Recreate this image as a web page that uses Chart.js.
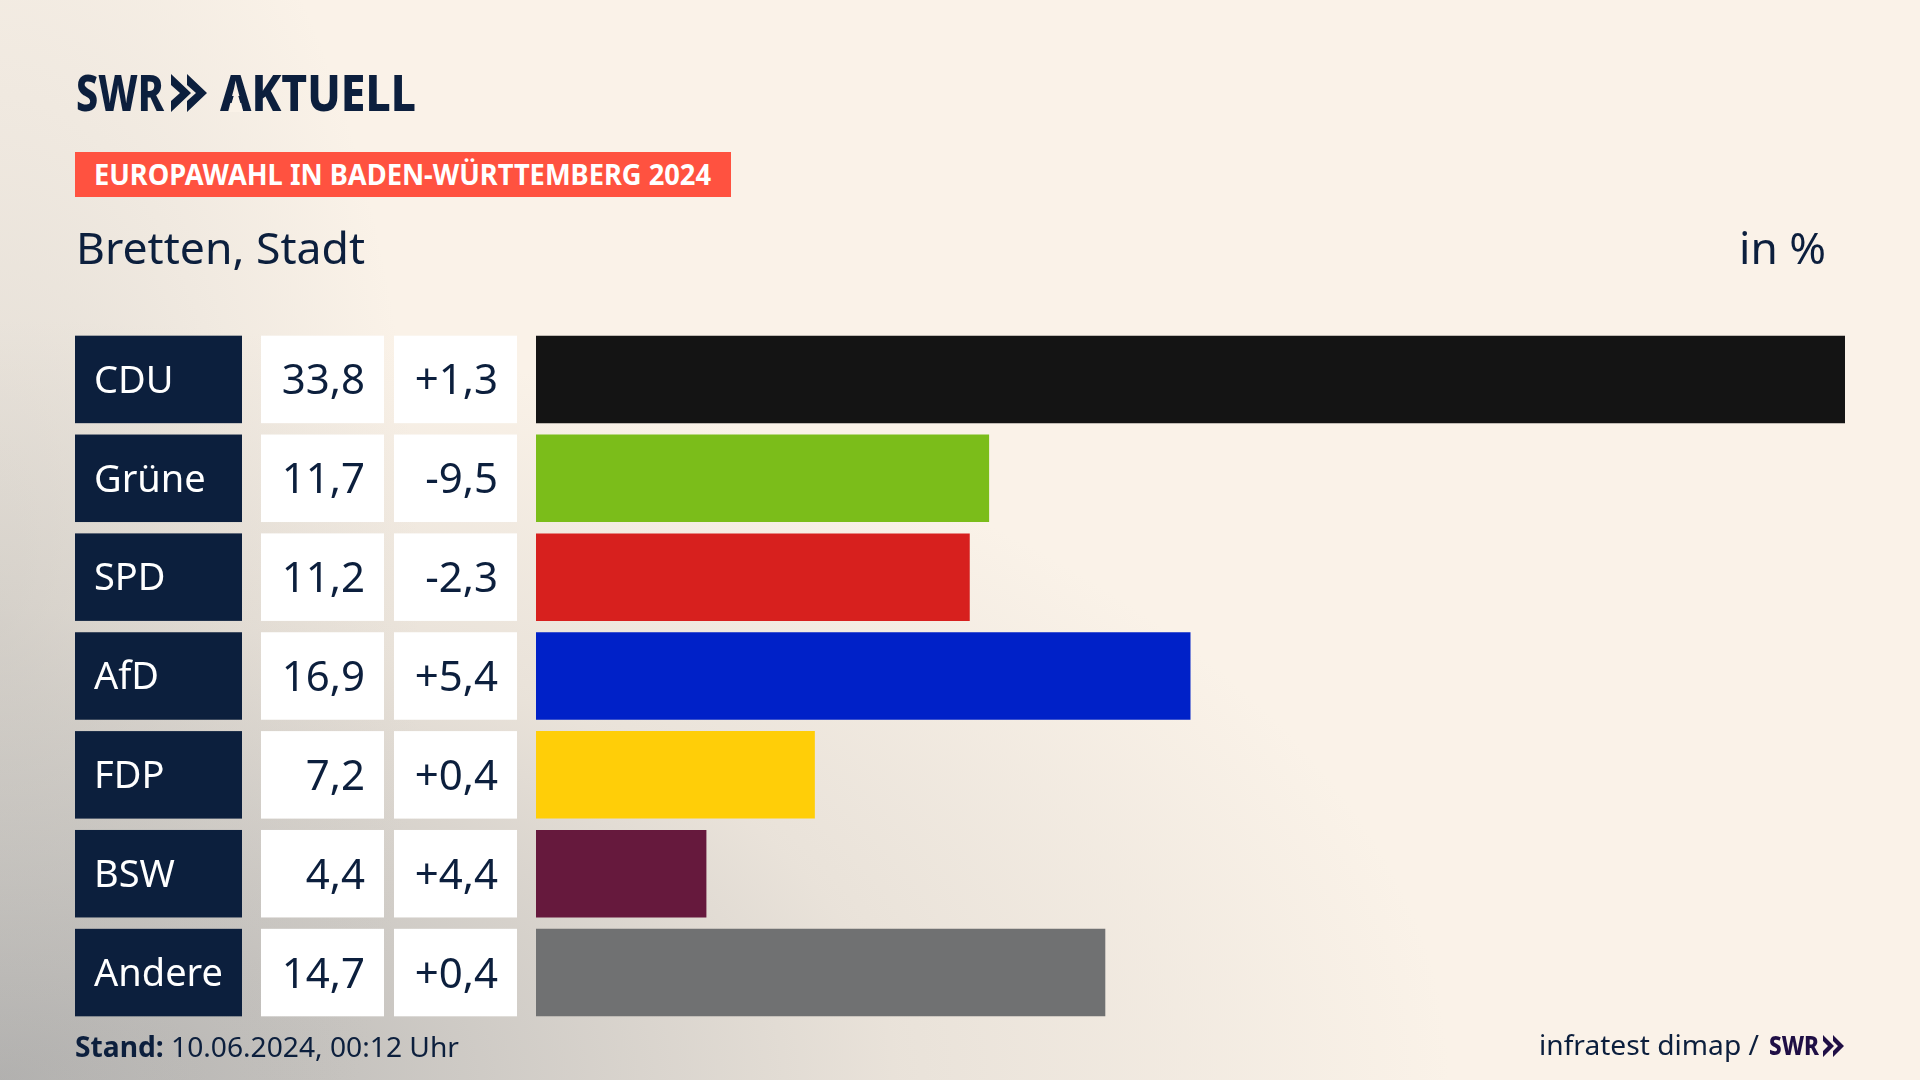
<!DOCTYPE html>
<html lang="de">
<head>
<meta charset="utf-8">
<title>Europawahl Bretten</title>
<script src="https://cdn.jsdelivr.net/npm/chart.js@4"></script>
<style>
html,body{margin:0;padding:0;width:1920px;height:1080px;overflow:hidden}
body{position:relative;font-family:"Noto Sans",sans-serif;color:#0c1f3d;
background:
 radial-gradient(ellipse 420px 900px at 0 620px, rgba(175,175,172,.34) 0%, rgba(190,188,184,.18) 55%, rgba(250,242,232,0) 100%),
 radial-gradient(ellipse 1450px 760px at 0 1080px, rgba(165,165,165,.88) 0%, rgba(188,186,183,.74) 30%, rgba(218,212,204,.52) 62%, rgba(250,242,232,0) 100%),
 #faf2e8;}
canvas{position:absolute;left:0;top:0}
.t{position:absolute;white-space:nowrap;line-height:1;transform-origin:left center}
.badge{position:absolute;left:75px;top:152px;width:656px;height:45px;background:#ff5240}
svg{position:absolute;left:0;top:0}
</style>
</head>
<body>
<canvas id="c" width="1920" height="1080"></canvas>
<div class="t" id="l1" data-w="88" style="left:76px;top:68px;font-size:49px;font-weight:800">SWR</div>
<div class="t" id="l2" data-w="196" style="left:220px;top:68px;font-size:49px;font-weight:800">AKTUELL</div>
<div class="badge"></div>
<div class="t" id="badge" data-w="617" style="left:94px;top:160px;font-size:28px;font-weight:700;color:#fff"></div>
<div class="t" id="place" data-w="289" style="left:76px;top:226px;font-size:43px"></div>
<div class="t" id="unit" data-w="87" style="left:1739px;top:226px;font-size:43px"></div>
<div class="t" id="stand" data-w="384" style="left:75px;top:1032px;font-size:28px"></div>
<div class="t" id="src" data-w="220" style="left:1539px;top:1030px;font-size:28px"></div>
<div class="t" id="l3" data-w="50" style="left:1769px;top:1031px;font-size:27px;font-weight:800;color:#1f0f45">SWR</div>
<svg width="1920" height="1080">
 <polygon fill="#faf2e8" points="236,88 229,112 243,112"/>
 <polygon fill="#0c1f3d" points="171,74 191,93 171,112 171,101 180,93 171,85"/>
 <polygon fill="#0c1f3d" points="187,74 207,93 187,112 187,101 196,93 187,85"/>
 <polygon fill="#1f0f45" points="1823,1035 1834,1046 1823,1057 1823,1051 1828,1046 1823,1041"/>
 <polygon fill="#1f0f45" points="1833,1035 1844,1046 1833,1057 1833,1051 1838,1046 1833,1041"/>
</svg>
<script>
const parties = ["CDU","Grüne","SPD","AfD","FDP","BSW","Andere"];
const shares = [33.8,11.7,11.2,16.9,7.2,4.4,14.7];
const shareLabels = ["33,8","11,7","11,2","16,9","7,2","4,4","14,7"];
const changeLabels = ["+1,3","-9,5","-2,3","+5,4","+0,4","+4,4","+0,4"];
const barColors = ["#141414","#7bbd1a","#d7201e","#0021c8","#ffce08","#66193d","#707172"];
const axisMax = 33.8;
const badgeText = "EUROPAWAHL IN BADEN-WÜRTTEMBERG 2024";
const placeText = "Bretten, Stadt";
const unitText = "in %";
const standBold = "Stand:";
const standText = " 10.06.2024, 00:12 Uhr";
const sourceText = "infratest dimap /";

document.getElementById('badge').textContent = badgeText;
document.getElementById('place').textContent = placeText;
document.getElementById('unit').textContent = unitText;
document.getElementById('stand').innerHTML = '<b>'+standBold+'</b>'+standText;
document.getElementById('src').textContent = sourceText;
document.querySelectorAll('[data-w]').forEach(el=>{
  const w = el.getBoundingClientRect().width;
  el.style.transform = 'scaleX('+(+el.dataset.w/w)+')';
});

const BAR_H = 87.5;
const cellsPlugin = {
  id:'cells',
  beforeDatasetsDraw(chart){
    const {ctx,scales:{y}} = chart;
    ctx.save();
    parties.forEach((p,i)=>{
      const cy = y.getPixelForValue(i), top = cy-BAR_H/2;
      ctx.fillStyle='#0c1f3d'; ctx.fillRect(75,top,167,BAR_H);
      ctx.fillStyle='#ffffff'; ctx.fillRect(261,top,123,BAR_H); ctx.fillRect(394,top,123,BAR_H);
      ctx.fillStyle='#0c1f3d'; ctx.font='42px "Noto Sans"'; ctx.textAlign='right'; ctx.textBaseline='alphabetic';
      ctx.fillText(shareLabels[i],365,cy+15);
      ctx.fillText(changeLabels[i],498,cy+15);
    });
    ctx.restore();
  },
  afterDatasetsDraw(chart){
    // party names are the category axis' tick labels; repaint them above the navy boxes
    const {ctx,scales:{y}} = chart;
    ctx.save();
    ctx.translate(0,2.5);
    y.drawLabels({left:0,top:0,right:1920,bottom:1080});
    ctx.restore();
  }
};
new Chart(document.getElementById('c'),{
  type:'bar',
  data:{labels:parties,datasets:[{data:shares,backgroundColor:barColors,borderWidth:0,
    categoryPercentage:1,barPercentage:BAR_H/98.83}]},
  options:{
    indexAxis:'y',responsive:false,animation:false,devicePixelRatio:1,
    layout:{padding:{left:94,right:75,top:330,bottom:58}},
    plugins:{legend:{display:false},tooltip:{enabled:false}},
    scales:{
      x:{min:0,max:axisMax,display:false},
      y:{grid:{display:false,drawTicks:false},border:{display:false},
        afterFit(s){s.width=442;},
        ticks:{color:'#ffffff',font:{family:'"Noto Sans"',size:38},crossAlign:'far',padding:0,autoSkip:false,
          callback(v,i){return parties[i];}}}
    }
  },
  plugins:[cellsPlugin]
});
</script>
</body>
</html>
